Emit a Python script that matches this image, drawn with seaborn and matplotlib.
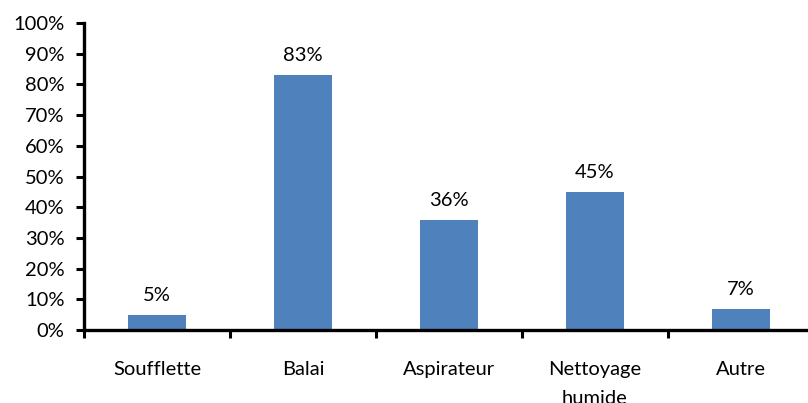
import matplotlib
matplotlib.use("Agg")
import matplotlib.pyplot as plt
import seaborn as sns
import pandas as pd
import numpy as np
from matplotlib.ticker import FixedLocator, PercentFormatter

categories = ["Soufflette", "Balai", "Aspirateur", "Nettoyage\nhumide", "Autre"]
values = [5, 83, 36, 45, 7]

sns.set_theme(style="white")
plt.rcParams["font.family"] = ["Lato", "DejaVu Sans"]

df = pd.DataFrame({"cat": categories, "val": values})

fig = plt.figure(figsize=(8.08, 4.03), dpi=100)
ax = fig.add_axes([0.104, 0.181, 0.903, 0.762])

sns.barplot(data=df, x="cat", y="val", color="#4F81BD", saturation=1,
            width=0.4, ax=ax, edgecolor="none")

for i, v in enumerate(values):
    ax.text(i, v + 3.5, f"{v}%", ha="center", va="bottom", fontsize=14.5, color="black")

ax.set_ylim(0, 100)
ax.set_xlim(-0.5, len(categories) - 0.5)
ax.set_yticks(np.arange(0, 101, 10))
ax.yaxis.set_major_formatter(PercentFormatter(decimals=0))
ax.set_xlabel("")
ax.set_ylabel("")

ax.xaxis.set_minor_locator(FixedLocator(np.arange(-0.5, len(categories), 1.0)))
ax.tick_params(axis="x", which="major", length=0, pad=22.5, labelsize=14.5, colors="black")
ax.tick_params(axis="x", which="minor", length=6, width=2.2, direction="out", color="black", bottom=True)
ax.tick_params(axis="y", which="major", length=6, width=2.2, direction="out", left=True,
               labelsize=14.5, colors="black", pad=8)
for lbl in ax.get_xticklabels():
    lbl.set_linespacing(1.8)
    lbl.set_verticalalignment("top")

for s in ["top", "right"]:
    ax.spines[s].set_visible(False)
for s in ["left", "bottom"]:
    ax.spines[s].set_linewidth(2.4)
    ax.spines[s].set_color("black")

fig.savefig("out.png", dpi=100)
